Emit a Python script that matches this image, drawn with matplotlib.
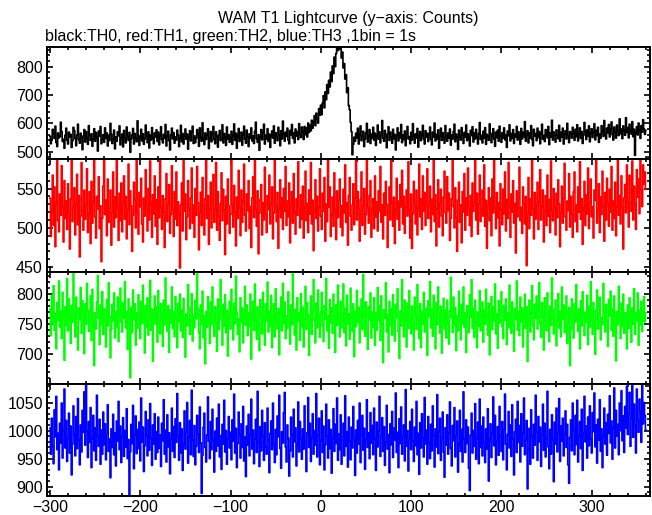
import numpy as np
import matplotlib
matplotlib.use('Agg')
import matplotlib.pyplot as plt
from matplotlib.ticker import MultipleLocator

plt.rcParams['font.family'] = ['Liberation Sans', 'DejaVu Sans']

# counts per 1 s bin, starting at t = -300 s
th0 = [
    555, 528, 541, 579, 563, 547, 590, 532, 518, 566, 549, 553, 604, 571, 536, 544, 512, 558, 583, 540,
    527, 569, 552, 561, 515, 538, 586, 574, 546, 521, 559, 597, 543, 530, 565, 548, 507, 556, 578, 534,
    571, 549, 526, 592, 557, 540, 563, 519, 545, 581, 537, 568, 550, 502, 573, 555, 589, 528, 543, 560,
    533, 584, 547, 566, 520, 558, 539, 600, 562, 529, 545, 576, 510, 551, 537, 570, 556, 591, 524, 548,
    562, 517, 575, 544, 531, 587, 553, 540, 568, 498, 546, 559, 582, 527, 564, 548, 535, 609, 557, 522,
    550, 579, 538, 563, 526, 545, 594, 556, 532, 570, 513, 558, 541, 585, 549, 528, 566, 552, 577, 536,
    569, 524, 557, 588, 543, 531, 561, 547, 596, 520, 554, 572, 539, 506, 560, 583, 545, 567, 530, 552,
    541, 576, 559, 518, 548, 593, 535, 564, 527, 557, 580, 544, 562, 509, 551, 574, 538, 569, 590, 529,
    556, 532, 547, 578, 561, 519, 584, 550, 537, 602, 548, 525, 566, 543, 559, 581, 511, 546, 571, 535,
    563, 589, 542, 528, 570, 553, 516, 558, 575, 539, 547, 595, 531, 564, 550, 522, 587, 545, 560, 533,
    549, 572, 526, 557, 598, 540, 565, 512, 554, 582, 536, 547, 569, 523, 561, 590, 544, 530, 576, 552,
    518, 563, 547, 584, 538, 555, 529, 571, 604, 546, 533, 560, 505, 551, 578, 542, 566, 597, 527, 558,
    544, 581, 536, 562, 515, 557, 573, 548, 591, 530, 567, 552, 539, 586, 559, 521, 574, 545, 608, 562,
    537, 569, 554, 583, 541, 528, 575, 560, 596, 547, 566, 531, 580, 555, 571, 543, 599, 563, 550, 587,
    571, 543, 589, 560, 584, 552, 601, 568, 593, 574, 611, 583, 605, 627, 592, 636, 615, 601, 652, 629,
    664, 631, 672, 698, 655, 711, 684, 737, 706, 752, 729, 781, 748, 803, 776, 834, 801, 847, 876, 858,
    889, 862, 878, 831, 852, 796, 811, 757, 772, 709, 726, 663, 648, 604, 571, 489, 526, 551, 537, 565,
    548, 583, 527, 560, 591, 539, 556, 572, 518, 545, 567, 600, 534, 553, 578, 529, 562, 547, 586, 541,
    565, 522, 553, 594, 544, 570, 531, 559, 610, 548, 537, 575, 556, 514, 563, 588, 540, 569, 552, 530,
    579, 546, 561, 506, 555, 584, 538, 567, 549, 596, 532, 558, 543, 573, 521, 562, 589, 545, 553, 528,
    568, 541, 599, 557, 530, 563, 548, 582, 516, 554, 571, 539, 560, 593, 546, 527, 574, 551, 565, 536,
    558, 587, 543, 524, 569, 552, 601, 538, 561, 545, 577, 512, 556, 583, 540, 567, 548, 530, 592, 554,
    537, 566, 549, 580, 523, 559, 544, 571, 597, 535, 562, 550, 508, 576, 553, 541, 585, 560, 529, 568,
    551, 594, 539, 563, 546, 520, 575, 557, 588, 534, 566, 545, 579, 552, 527, 564, 603, 543, 558, 531,
    572, 548, 585, 526, 561, 553, 540, 598, 565, 532, 557, 581, 544, 519, 569, 550, 576, 537, 590, 555,
    533, 567, 549, 584, 542, 560, 515, 573, 556, 595, 538, 564, 547, 578, 529, 561, 552, 589, 541, 570,
    557, 526, 582, 545, 568, 553, 606, 537, 560, 574, 531, 566, 548, 592, 543, 521, 579, 556, 564, 539,
    583, 550, 571, 528, 563, 597, 544, 557, 536, 578, 561, 549, 589, 525, 566, 552, 611, 541, 570, 558,
    534, 577, 559, 546, 593, 537, 568, 551, 583, 527, 562, 574, 545, 600, 556, 532, 571, 563, 548, 586,
    566, 540, 579, 553, 595, 538, 562, 584, 547, 571, 529, 558, 603, 569, 543, 577, 556, 591, 535, 564,
    581, 550, 568, 599, 542, 575, 557, 586, 533, 563, 548, 592, 571, 554, 610, 560, 545, 583, 567, 596,
    552, 578, 605, 560, 541, 587, 569, 548, 594, 572, 557, 616, 563, 580, 546, 591, 575, 558, 620, 568,
    585, 549, 597, 571, 562, 606, 553, 579, 487, 566, 588, 559, 601, 574, 547, 592, 569, 613, 580, 561,
    575,
]

th1 = [
    538, 489, 521, 567, 503, 552, 476, 531, 588, 509, 495, 543, 516, 579, 527, 482, 560, 512, 534, 498,
    556, 519, 473, 537, 590, 508, 526, 551, 491, 530, 568, 504, 541, 463, 515, 583, 522, 497, 548, 511,
    529, 575, 494, 518, 546, 480, 559, 506, 533, 592, 514, 487, 540, 524, 565, 499, 528, 457, 512, 553,
    586, 517, 535, 490, 562, 507, 525, 548, 478, 520, 571, 501, 539, 513, 594, 526, 484, 544, 509, 557,
    495, 532, 566, 511, 540, 486, 523, 581, 504, 547, 528, 470, 516, 558, 536, 500, 589, 519, 492, 545,
    527, 563, 505, 482, 538, 515, 574, 523, 496, 550, 510, 585, 531, 488, 542, 518, 566, 502, 536, 479,
    552, 513, 590, 526, 498, 541, 520, 475, 537, 569, 508, 530, 555, 493, 517, 579, 524, 489, 546, 511,
    571, 503, 533, 518, 449, 529, 557, 496, 587, 521, 543, 485, 514, 560, 525, 499, 538, 576, 506, 529,
    488, 550, 516, 578, 532, 472, 519, 545, 503, 564, 527, 491, 537, 596, 512, 541, 479, 523, 558, 500,
    535, 568, 507, 524, 583, 497, 546, 515, 484, 531, 570, 509, 549, 522, 466, 540, 505, 562, 528, 493,
    517, 589, 530, 501, 554, 520, 477, 539, 512, 573, 526, 490, 548, 507, 534, 581, 516, 496, 543, 522,
    560, 499, 527, 475, 538, 565, 513, 586, 524, 502, 547, 467, 519, 536, 555, 491, 532, 510, 577, 518,
    494, 541, 523, 567, 505, 530, 552, 486, 519, 593, 528, 508, 545, 474, 524, 561, 513, 538, 498, 550,
    521, 578, 503, 534, 514, 557, 481, 529, 546, 506, 569, 520, 492, 537, 516, 584, 525, 500, 542, 511,
    553, 487, 526, 572, 509, 531, 494, 548, 518, 583, 505, 535, 471, 523, 561, 512, 540, 496, 527, 575,
    515, 498, 544, 521, 564, 483, 530, 508, 591, 526, 552, 489, 517, 539, 502, 570, 523, 485, 547, 513,
    535, 562, 501, 528, 490, 549, 519, 580, 507, 532, 478, 541, 564, 515, 497, 529, 556, 504, 538, 587,
    510, 546, 524, 483, 536, 571, 503, 528, 550, 492, 517, 595, 525, 506, 541, 560, 488, 522, 537, 499,
    566, 514, 533, 496, 547, 521, 578, 507, 529, 486, 544, 516, 559, 530, 475, 520, 552, 510, 589, 531,
    502, 539, 480, 523, 563, 511, 534, 497, 555, 527, 573, 505, 540, 493, 526, 548, 515, 584, 522, 487,
    543, 474, 518, 559, 532, 505, 548, 491, 526, 581, 514, 537, 498, 566, 521, 545, 503, 530, 575, 512,
    528, 553, 495, 536, 517, 588, 508, 542, 477, 524, 561, 501, 531, 549, 515, 490, 539, 572, 519, 506,
    565, 522, 544, 484, 512, 537, 592, 527, 500, 551, 513, 470, 535, 558, 507, 529, 481, 546, 520, 569,
    497, 538, 516, 576, 525, 503, 541, 489, 557, 521, 533, 594, 510, 544, 492, 530, 567, 508, 524, 548,
    515, 580, 502, 535, 474, 528, 551, 509, 538, 490, 562, 519, 587, 526, 499, 545, 513, 532, 477, 556,
    523, 504, 549, 518, 571, 496, 536, 512, 583, 527, 488, 543, 520, 560, 506, 531, 468, 547, 514, 538,
    577, 509, 526, 493, 552, 531, 505, 540, 452, 518, 564, 499, 537, 516, 590, 524, 486, 545, 511, 529,
    558, 498, 533, 574, 510, 527, 548, 482, 521, 541, 503, 567, 515, 536, 494, 585, 522, 509, 550, 526,
    491, 544, 513, 561, 530, 476, 519, 553, 506, 538, 582, 514, 497, 534, 522, 569, 501, 540, 517, 488,
    546, 571, 508, 529, 495, 552, 520, 584, 511, 537, 479, 525, 559, 503, 542, 518, 576, 499, 533, 562,
    514, 527, 487, 548, 535, 596, 506, 523, 556, 494, 539, 517, 572, 528, 483, 545, 510, 563, 531, 502,
    549, 520, 578, 497, 534, 512, 558, 490, 527, 586, 516, 541, 505, 566, 525, 473, 538, 555, 519, 580,
    532, 501, 567, 544, 521, 585, 510, 553, 530, 498, 574, 539, 562, 518, 591, 548, 527, 580, 556, 571,
    549,
]

th2 = [
    775, 731, 798, 752, 814, 740, 768, 709, 786, 757, 822, 745, 772, 726, 803, 761, 690, 779, 748, 826,
    739, 792, 763, 718, 781, 753, 836, 770, 729, 795, 744, 707, 777, 758, 811, 735, 789, 766, 701, 784,
    750, 818, 773, 738, 762, 797, 723, 808, 756, 681, 769, 742, 787, 831, 760, 716, 782, 749, 804, 733,
    776, 757, 712, 791, 747, 819, 764, 694, 741, 783, 756, 802, 727, 770, 746, 795, 721, 765, 810, 753,
    737, 786, 760, 821, 744, 771, 708, 792, 753, 661, 778, 736, 807, 758, 784, 715, 769, 743, 799, 762,
    726, 788, 751, 815, 767, 702, 781, 746, 794, 732, 759, 823, 740, 775, 688, 763, 797, 750, 779, 720,
    806, 757, 734, 784, 769, 713, 790, 749, 827, 764, 738, 781, 703, 773, 752, 812, 743, 770, 729, 796,
    761, 711, 785, 754, 800, 739, 774, 728, 793, 758, 695, 767, 747, 816, 778, 733, 755, 801, 722, 766,
    744, 790, 759, 834, 776, 736, 709, 782, 750, 805, 727, 764, 684, 771, 745, 796, 757, 718, 787, 749,
    812, 762, 730, 779, 754, 705, 792, 741, 768, 824, 758, 715, 783, 747, 799, 736, 773, 697, 760, 788,
    742, 808, 766, 724, 785, 751, 830, 770, 733, 759, 704, 794, 753, 777, 719, 765, 813, 748, 782, 731,
    769, 746, 800, 692, 761, 788, 740, 817, 757, 725, 779, 748, 706, 791, 767, 734, 803, 760, 715, 784,
    755, 820, 737, 772, 746, 798, 711, 763, 784, 729, 809, 758, 742, 776, 699, 768, 795, 739, 818, 752,
    787, 726, 764, 743, 804, 771, 717, 782, 749, 835, 761, 732, 775, 707, 794, 755, 768, 723, 801, 746,
    778, 712, 759, 813, 741, 786, 766, 698, 750, 797, 733, 772, 824, 756, 719, 785, 744, 807, 762, 728,
    770, 803, 747, 721, 781, 758, 826, 739, 764, 710, 791, 752, 777, 735, 800, 763, 703, 782, 748, 815,
    757, 729, 788, 744, 769, 817, 736, 776, 714, 798, 751, 767, 725, 810, 760, 738, 784, 696, 771, 746,
    806, 754, 778, 719, 763, 792, 741, 833, 765, 730, 787, 749, 708, 779, 757, 802, 727, 770, 745, 794,
    715, 768, 740, 811, 756, 781, 723, 797, 750, 686, 774, 760, 819, 737, 766, 704, 788, 748, 776, 732,
    799, 753, 722, 783, 761, 809, 738, 693, 772, 747, 824, 765, 729, 790, 756, 712, 785, 743, 806, 758,
    734, 780, 752, 707, 795, 768, 741, 816, 759, 726, 784, 711, 771, 750, 803, 737, 777, 760, 698, 789,
    763, 821, 744, 776, 730, 798, 755, 709, 786, 749, 812, 767, 735, 780, 702, 758, 793, 742, 774, 727,
    790, 753, 717, 772, 828, 761, 736, 795, 748, 778, 706, 764, 739, 805, 757, 724, 783, 751, 812, 745,
    769, 703, 781, 755, 736, 799, 762, 824, 743, 776, 728, 790, 753, 711, 770, 747, 806, 739, 765, 787,
    720, 774, 750, 808, 763, 732, 785, 699, 758, 796, 741, 779, 755, 817, 734, 767, 710, 789, 752, 773,
    804, 746, 726, 781, 757, 792, 716, 769, 744, 815, 761, 735, 787, 749, 705, 776, 758, 822, 740, 771,
    731, 795, 754, 777, 712, 764, 800, 743, 779, 688, 756, 790, 737, 768, 814, 748, 724, 783, 760, 797,
    742, 773, 819, 751, 728, 786, 763, 707, 794, 755, 739, 802, 766, 721, 780, 748, 827, 761, 734, 775,
    790, 714, 757, 801, 744, 771, 729, 812, 759, 782, 736, 765, 797, 718, 750, 778, 681, 741, 792, 766,
    727, 784, 753, 816, 760, 738, 775, 709, 789, 747, 804, 764, 731, 770, 754, 798, 716, 779, 745, 821,
    758, 733, 786, 752, 700, 774, 807, 742, 767, 795, 724, 761, 749, 818, 772, 737, 783, 756, 713, 791,
    764, 805, 740, 776, 730, 797, 753, 689, 771, 749, 813, 762, 726, 785, 746, 800, 735, 769, 757, 709,
    782, 743, 794, 761, 720, 777, 750, 809, 733, 768, 756, 802, 715, 773, 748, 788, 738, 763, 796, 754,
    769,
]

th3 = [
    1004, 958, 1022, 973, 941, 1037, 989, 1061, 966, 995, 930, 1013, 978, 1049, 951, 1000, 1074, 969, 1018, 945,
    987, 1031, 960, 1008, 921, 976, 1044, 993, 955, 1025, 968, 1057, 983, 939, 1010, 962, 1036, 997, 1069, 974,
    1081, 999, 952, 1016, 979, 1041, 934, 986, 1027, 964, 1005, 947, 1063, 990, 972, 1020, 940, 1001, 958, 1033,
    975, 1012, 948, 994, 1046, 963, 985, 916, 1003, 970, 1029, 957, 996, 937, 1017, 981, 1052, 966, 1008, 943,
    989, 1023, 954, 1000, 971, 1039, 950, 984, 884, 962, 1011, 977, 1045, 932, 993, 1026, 959, 1002, 968, 1015,
    946, 1058, 980, 1006, 927, 973, 1034, 991, 955, 1019, 965, 1048, 987, 938, 1010, 976, 1030, 949, 998, 961,
    1024, 969, 992, 936, 1013, 982, 1055, 958, 1001, 944, 1028, 971, 996, 923, 985, 1040, 963, 1007, 952, 1021,
    979, 1066, 990, 947, 1014, 960, 1003, 929, 975, 1035, 967, 998, 1050, 942, 988, 1018, 957, 1072, 983, 954,
    1009, 939, 972, 1027, 994, 961, 1042, 978, 888, 956, 1006, 1031, 970, 944, 992, 1060, 981, 950, 1016, 966,
    1038, 984, 926, 999, 963, 1022, 973, 1047, 953, 991, 931, 1011, 976, 1054, 962, 1000, 940, 985, 1025, 969,
    997, 948, 1019, 981, 1065, 960, 1004, 934, 977, 1033, 993, 951, 1012, 970, 1043, 946, 988, 918, 1008, 974,
    1029, 955, 992, 1056, 967, 1001, 941, 985, 1020, 961, 1070, 979, 936, 1007, 964, 1036, 990, 947, 1014, 972,
    958, 1040, 983, 925, 995, 1017, 966, 1049, 976, 943, 1002, 957, 1026, 989, 1063, 968, 933, 998, 978, 1032,
    1068, 971, 944, 1010, 986, 919, 964, 1024, 993, 953, 1038, 980, 1005, 937, 975, 1051, 962, 1016, 985, 949,
    1003, 967, 1044, 979, 927, 996, 1059, 970, 1013, 945, 988, 1030, 958, 1000, 974, 1066, 953, 991, 1022, 939,
    982, 1035, 961, 1008, 930, 975, 1047, 990, 951, 1019, 968, 1002, 924, 986, 1039, 963, 1011, 977, 1058, 947,
    994, 966, 1028, 940, 983, 1013, 955, 1062, 972, 998, 935, 1024, 981, 948, 1006, 969, 1043, 987, 920, 1001,
    960, 1018, 976, 1049, 943, 992, 1027, 965, 1004, 931, 984, 1055, 970, 996, 950, 1032, 978, 1009, 957, 1040,
    986, 929, 1015, 971, 999, 1061, 954, 990, 1023, 963, 1007, 938, 980, 1045, 967, 993, 925, 1012, 975, 1034,
    952, 1004, 983, 1067, 961, 997, 934, 1021, 977, 1042, 958, 989, 1010, 946, 1073, 972, 1000, 928, 985, 1016,
    966, 1038, 981, 945, 1006, 973, 1052, 957, 995, 922, 1014, 969, 1030, 987, 953, 1059, 976, 1001, 940, 1025,
    979, 950, 1011, 964, 1044, 991, 935, 1003, 971, 1064, 959, 998, 1022, 947, 988, 1033, 962, 917, 1005, 974,
    1028, 958, 996, 1051, 968, 937, 1009, 982, 1041, 953, 990, 1017, 926, 975, 1036, 963, 1002, 944, 1069, 985,
    961, 1019, 977, 1006, 933, 893, 992, 1031, 960, 1000, 972, 1048, 949, 986, 1015, 941, 1056, 970, 1008, 955,
    1024, 978, 943, 1003, 967, 1039, 910, 984, 1012, 952, 995, 1060, 973, 1027, 939, 981, 1007, 956, 1043, 990,
    963, 1016, 948, 1001, 1065, 976, 930, 993, 1034, 969, 1010, 954, 1046, 985, 921, 998, 1020, 961, 1052, 979,
    1009, 944, 1030, 972, 995, 1058, 957, 983, 1018, 896, 966, 1004, 940, 1037, 989, 951, 1011, 974, 1063, 998,
    947, 1025, 980, 1006, 936, 992, 1047, 965, 1013, 953, 987, 1070, 971, 932, 1002, 958, 1028, 984, 909, 1015,
    976, 1040, 962, 997, 1057, 945, 1008, 981, 1022, 955, 993, 1035, 970, 1011, 939, 906, 988, 1019, 964, 1049,
    1001, 957, 1027, 975, 1054, 944, 990, 1016, 968, 1038, 929, 996, 1061, 980, 1008, 951, 1024, 973, 1044, 986,
    960, 1032, 998, 1067, 971, 1010, 942, 1020, 983, 1055, 963, 1003, 934, 991, 1040, 976, 1014, 956, 1029, 995,
    1062, 978, 1017, 949, 1004, 1076, 969, 1036, 990, 1011, 957, 1049, 1000, 1071, 982, 1026, 961, 1043, 1005, 1079,
    993, 1030, 1068, 972, 1022, 1083, 988, 1047, 1009, 960, 1074, 1019, 997, 1056, 1034, 979, 1082, 1012, 1050, 1027,
    1001,
]

series = [th0, th1, th2, th3]
colors = ['black', '#ff0000', '#00ff00', '#0000ff']
ylims = [(474, 870), (444.5, 587.5), (650.5, 837.7), (883.4, 1083)]
majors = [100, 50, 50, 50]
minors = [20, 10, 10, 10]

W, H = 652, 515
left, right = 47, 650
edges = [47, 159, 271.5, 384, 496]

fig = plt.figure(figsize=(W / 100, H / 100), dpi=100)

for i in range(4):
    y0, y1 = edges[i], edges[i + 1]
    ax = fig.add_axes([left / W, 1 - y1 / H, (right - left) / W, (y1 - y0) / H])
    data = np.array(series[i])
    t = np.arange(-300, -300 + len(data))
    ax.plot(t, data, color=colors[i], lw=1.2, drawstyle='steps-mid')
    ax.set_xlim(-303.3, 364.6)
    ax.set_ylim(*ylims[i])
    ax.xaxis.set_major_locator(MultipleLocator(100))
    ax.xaxis.set_minor_locator(MultipleLocator(20))
    ax.yaxis.set_major_locator(MultipleLocator(majors[i]))
    ax.yaxis.set_minor_locator(MultipleLocator(minors[i]))
    ax.tick_params(which='both', direction='in', top=True, right=True, labelsize=11.5, width=1.2)
    ax.tick_params(which='major', length=4.5, pad=3)
    ax.tick_params(which='minor', length=2.3)
    if i < 3:
        ax.tick_params(labelbottom=False)
    for s in ax.spines.values():
        s.set_linewidth(1.4)

fig.text(348.5 / W, 1 - 18 / H, 'WAM T1 Lightcurve (y\u2212axis: Counts)',
         ha='center', va='center', fontsize=11.5)
fig.text(45 / W, 1 - 36 / H, 'black:TH0, red:TH1, green:TH2, blue:TH3 ,1bin = 1s',
         ha='left', va='center', fontsize=11.5)

fig.savefig('out.png', dpi=100)
